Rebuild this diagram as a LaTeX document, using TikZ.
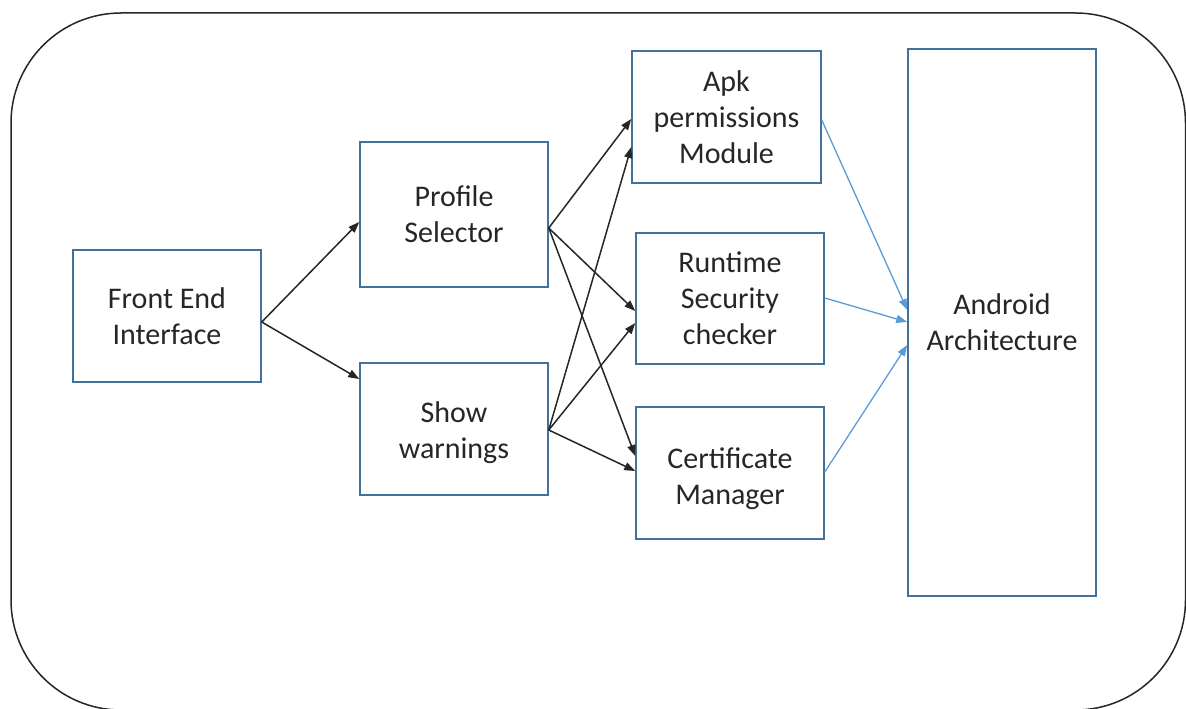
\documentclass[tikz,border=0pt]{standalone}
\usepackage{fontspec}
\setmainfont{Carlito}
\usetikzlibrary{arrows.meta}
\definecolor{boxblue}{HTML}{41719C}
\definecolor{arrowblue}{HTML}{5B9BD5}
\begin{document}
\begin{tikzpicture}[x=1pt,y=-1pt,
  box/.style={draw=boxblue,line width=1.5pt,rectangle,inner sep=0pt,
    align=center,font=\fontsize{30}{36}\selectfont,text=black!85},
  blk/.style={draw=black!85,line width=1.5pt,-{Triangle[length=11pt,width=8pt]}},
  blu/.style={draw=arrowblue,line width=1.3pt,-{Triangle[length=11pt,width=8pt]}}]
\useasboundingbox (0,0) rectangle (1186,709);
\draw[line width=1.5pt,black!85,rounded corners=110pt] (11,13) rectangle (1185.5,710);
\node[box,minimum width=188pt,minimum height=132pt] (fei) at (167,316) {Front End\\Interface};
\node[box,minimum width=188pt,minimum height=145pt] (ps) at (454,214.5) {Profile\\Selector};
\node[box,minimum width=188pt,minimum height=132pt] (sw) at (454,429) {\rule{0pt}{28pt}Show\\warnings};
\node[box,minimum width=189pt,minimum height=132pt] (apk) at (726.5,117) {Apk\\permissions\\Module};
\node[box,minimum width=188pt,minimum height=131pt] (rt) at (730,298.5) {Runtime\\Security\\checker};
\node[box,minimum width=188pt,minimum height=132pt] (cm) at (730,473) {\rule{0pt}{32pt}Certificate\\Manager};
\node[box,minimum width=188pt,minimum height=547pt] (aa) at (1002,322.5) {Android\\Architecture};
% black arrows
\coordinate (f0) at (fei.east |- 0,322);
\draw[blk] (f0) -- (ps.west |- 0,222);
\draw[blk] (f0) -- (sw.west |- 0,379);
\coordinate (p0) at (ps.east |- 0,228);
\draw[blk] (p0) -- (apk.west |- 0,119);
\draw[blk] (p0) -- (rt.west |- 0,311);
\draw[blk] (p0) -- (cm.west |- 0,456);
\coordinate (s0) at (sw.east |- 0,430);
\draw[blk] (s0) -- (apk.west |- 0,147);
\draw[blk] (s0) -- (rt.west |- 0,323);
\draw[blk] (s0) -- (cm.west |- 0,471);
% blue arrows
\draw[blu] (apk.east |- 0,120) -- (aa.west |- 0,310);
\draw[blu] (rt.east |- 0,298) -- (aa.west |- 0,322);
\draw[blu] (cm.east |- 0,472) -- (aa.west |- 0,345);
\end{tikzpicture}
\end{document}
